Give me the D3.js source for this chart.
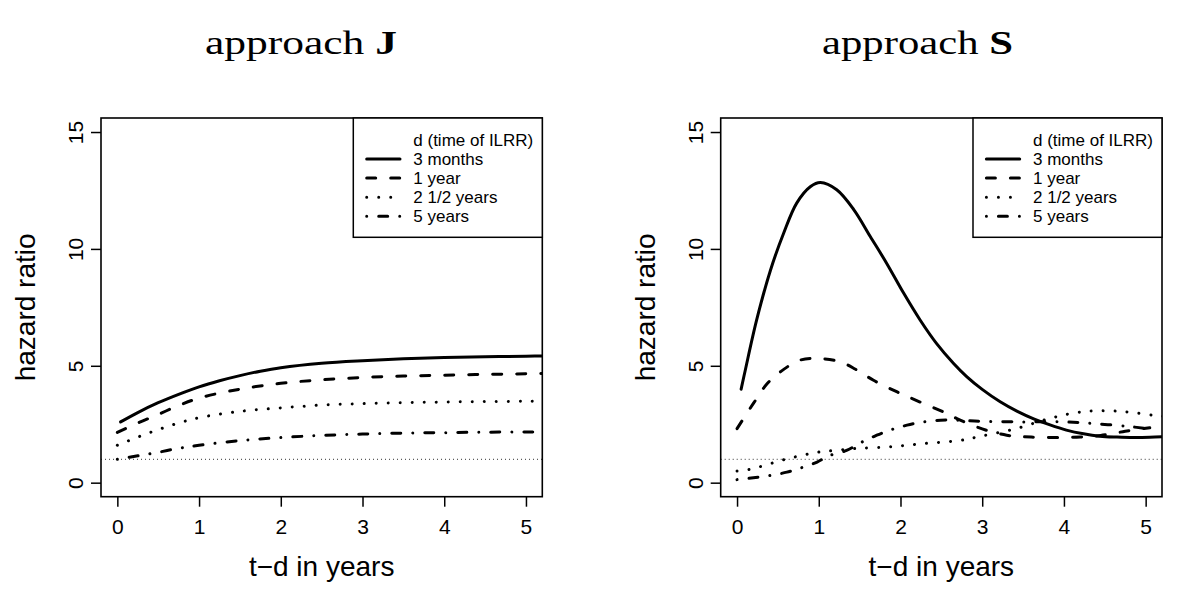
<!DOCTYPE html>
<html><head><meta charset="utf-8">
<script src="https://cdn.jsdelivr.net/npm/d3@7"></script>
<style>body{margin:0;background:#fff}svg{display:block}</style>
</head><body>
<svg id="c" width="1200" height="609"></svg>
<script>
// ---------- data ----------
const xTicks = [0, 1, 2, 3, 4, 5];
const yTicks = [0, 5, 10, 15];
const panelLetters = ["J", "S"];
const legendTitle = "d (time of ILRR)";
const seriesNames = ["3 months", "1 year", "2 1/2 years", "5 years"];
const refLine = 1;

// approach J
const J_3m_t  = [0.04, 0.25, 0.5, 0.75, 1, 1.25, 1.5, 1.75, 2, 2.5, 3, 3.5, 4, 4.5, 5, 5.3];
const J_3m_hr = [2.6, 3.0, 3.42, 3.78, 4.1, 4.36, 4.58, 4.77, 4.92, 5.11, 5.22, 5.3, 5.36, 5.39, 5.41, 5.42];
const J_1y_t  = [0, 0.25, 0.5, 0.75, 1, 1.5, 2, 2.5, 3, 3.5, 4, 4.5, 5, 5.3];
const J_1y_hr = [2.15, 2.55, 2.92, 3.3, 3.62, 4.0, 4.25, 4.4, 4.5, 4.56, 4.6, 4.63, 4.66, 4.67];
const J_25y_t  = [0, 0.25, 0.5, 0.75, 1, 1.5, 2, 2.5, 3, 3.5, 4, 4.5, 5, 5.3];
const J_25y_hr = [1.6, 1.95, 2.27, 2.55, 2.78, 3.05, 3.2, 3.32, 3.38, 3.42, 3.45, 3.47, 3.48, 3.49];
const J_5y_t  = [0, 0.25, 0.5, 0.75, 1, 1.5, 2, 2.5, 3, 3.5, 4, 4.5, 5, 5.3];
const J_5y_hr = [1.0, 1.15, 1.3, 1.47, 1.6, 1.8, 1.93, 2.02, 2.08, 2.12, 2.14, 2.16, 2.17, 2.17];

// approach S
const S_3m_t  = [0.05, 0.1, 0.24, 0.41, 0.57, 0.73, 0.9, 1.02, 1.22, 1.43, 1.63, 1.83, 2.04, 2.24, 2.44, 2.65, 2.81, 3.0, 3.22, 3.43, 3.63, 3.83, 4.03, 4.24, 4.44, 4.65, 4.85, 5.05, 5.3];
const S_3m_hr = [4.0, 4.8, 6.96, 9.1, 10.67, 11.96, 12.67, 12.84, 12.53, 11.67, 10.53, 9.39, 8.1, 6.96, 5.96, 5.1, 4.54, 3.99, 3.46, 3.05, 2.73, 2.47, 2.25, 2.09, 1.99, 1.95, 1.93, 1.94, 1.98];
const S_1y_t  = [0, 0.2, 0.37, 0.53, 0.77, 1.0, 1.26, 1.45, 1.67, 1.96, 2.24, 2.57, 2.69, 3.0, 3.3, 3.6, 4.2, 4.45, 4.75, 5.05];
const S_1y_hr = [2.31, 3.39, 4.24, 4.74, 5.24, 5.31, 5.17, 4.85, 4.38, 3.88, 3.45, 2.96, 2.74, 2.3, 2.03, 1.95, 1.95, 2.02, 2.2, 2.35];
const S_25y_t  = [0, 0.15, 0.3, 0.57, 0.85, 1.0, 1.2, 1.45, 1.85, 2.28, 2.73, 3.0, 3.4, 3.8, 4.1, 4.35, 4.6, 4.85, 5.15, 5.3];
const S_25y_hr = [0.5, 0.57, 0.7, 0.98, 1.21, 1.31, 1.38, 1.46, 1.53, 1.67, 1.81, 2.0, 2.3, 2.72, 2.97, 3.07, 3.07, 3.0, 2.86, 2.82];
const S_5y_t  = [0, 0.2, 0.41, 0.61, 0.79, 0.98, 1.11, 1.34, 1.53, 1.71, 1.89, 2.08, 2.28, 2.49, 2.7, 3.0, 3.5, 4.0, 4.4, 4.8, 5.05];
const S_5y_hr = [0.13, 0.21, 0.31, 0.45, 0.64, 0.88, 1.13, 1.38, 1.74, 2.03, 2.27, 2.46, 2.6, 2.67, 2.67, 2.62, 2.6, 2.6, 2.52, 2.4, 2.3];

const panelSeries = [
  [[J_3m_t, J_3m_hr], [J_1y_t, J_1y_hr], [J_25y_t, J_25y_hr], [J_5y_t, J_5y_hr]],
  [[S_3m_t, S_3m_hr], [S_1y_t, S_1y_hr], [S_25y_t, S_25y_hr], [S_5y_t, S_5y_hr]]
];

// ---------- styling ----------
const dashes = [null, "9,15", "0.01,12", "0.01,12,9,12"];
const panelLeft = [101, 720.7];
const boxW = 441.3, boxTop = 118, boxBottom = 496.7;
const titleSpans = [[205, 397], [822, 1013]];
const SANS = "'Liberation Sans', Arial, sans-serif";

const svg = d3.select("#c");

panelLetters.forEach((letter, p) => {
  const L = panelLeft[p];
  const x = d3.scaleLinear().domain([-0.2, 5.2]).range([L, L + boxW]);
  const y = d3.scaleLinear().domain([-0.6, 15.6]).range([boxBottom, boxTop]);
  const g = svg.append("g");

  const cid = "clip" + p;
  svg.append("clipPath").attr("id", cid).append("rect")
    .attr("x", L).attr("y", boxTop).attr("width", boxW).attr("height", boxBottom - boxTop);

  // reference line
  g.append("line").attr("x1", L).attr("x2", L + boxW)
    .attr("y1", y(refLine)).attr("y2", y(refLine))
    .attr("stroke", "#333").attr("stroke-width", 1).attr("stroke-dasharray", "1,3");

  // curves
  const line = d3.line().x(d => x(d[0])).y(d => y(d[1])).curve(d3.curveCatmullRom.alpha(0.5));
  const cg = g.append("g").attr("clip-path", `url(#${cid})`);
  panelSeries[p].forEach((s, i) => {
    const pts = s[0].map((t, k) => [t, s[1][k]]);
    cg.append("path").datum(pts).attr("d", line)
      .attr("fill", "none").attr("stroke", "#000").attr("stroke-width", 3)
      .attr("stroke-linecap", "round").attr("stroke-linejoin", "round")
      .attr("stroke-dasharray", dashes[i]);
  });

  // axes
  const ax = g.append("g").attr("transform", `translate(0,${boxBottom})`)
    .call(d3.axisBottom(x).tickValues(xTicks).tickSize(10).tickFormat(d3.format("d")));
  ax.select(".domain").remove();
  ax.selectAll("line").attr("stroke", "#000").attr("stroke-width", 1.5);
  ax.selectAll("text").attr("y", 37.8).attr("dy", null)
    .attr("font-family", SANS).attr("font-size", 21).attr("fill", "#000");

  const ay = g.append("g").attr("transform", `translate(${L},0)`)
    .call(d3.axisLeft(y).tickValues(yTicks).tickSize(10).tickFormat(d3.format("d")));
  ay.select(".domain").remove();
  ay.selectAll("line").attr("stroke", "#000").attr("stroke-width", 1.5);
  ay.selectAll("text").attr("x", 0).attr("dy", null).attr("y", -17.7)
    .attr("text-anchor", "middle").attr("transform", "rotate(-90)")
    .attr("font-family", SANS).attr("font-size", 21).attr("fill", "#000");

  // box
  g.append("rect").attr("x", L).attr("y", boxTop).attr("width", boxW).attr("height", boxBottom - boxTop)
    .attr("fill", "none").attr("stroke", "#000").attr("stroke-width", 1.6);

  // axis titles
  g.append("text").attr("x", (L + L + boxW) / 2).attr("y", 575.7)
    .attr("text-anchor", "middle").attr("font-family", SANS).attr("font-size", 28)
    .text("t\u2212d in years");
  g.append("text").attr("transform", `translate(${L - 66},${(boxTop + boxBottom) / 2}) rotate(-90)`)
    .attr("text-anchor", "middle").attr("font-family", SANS).attr("font-size", 28)
    .text("hazard ratio");

  // legend
  const lx = L + 252.3;
  g.append("rect").attr("x", lx).attr("y", boxTop).attr("width", L + boxW - lx).attr("height", 237.3 - boxTop)
    .attr("fill", "#fff").attr("stroke", "#000").attr("stroke-width", 1.5);
  g.append("text").attr("x", L + 312.3).attr("y", 146).attr("font-family", SANS).attr("font-size", 17)
    .text(legendTitle);
  seriesNames.forEach((nm, i) => {
    const by = 165 + i * 19.1;
    g.append("text").attr("x", L + 312.3).attr("y", by).attr("font-family", SANS).attr("font-size", 17).text(nm);
    g.append("line").attr("x1", L + 265.7).attr("x2", L + 299).attr("y1", by - 6).attr("y2", by - 6)
      .attr("stroke", "#000").attr("stroke-width", 3).attr("stroke-linecap", "round")
      .attr("stroke-dasharray", dashes[i]);
  });

  // title
  const tt = svg.append("text").attr("x", 0).attr("y", 0)
    .attr("font-family", "'Liberation Serif', 'Times New Roman', serif").attr("font-size", 34);
  tt.append("tspan").text("approach ");
  tt.append("tspan").attr("font-weight", "bold").text(letter);
  const bb = tt.node().getBBox();
  const [tx0, tx1] = titleSpans[p];
  const sx = (tx1 - tx0) / bb.width;
  tt.attr("transform", `translate(${tx0 - bb.x * sx},54) scale(${sx},1)`);
});
</script>
</body></html>
